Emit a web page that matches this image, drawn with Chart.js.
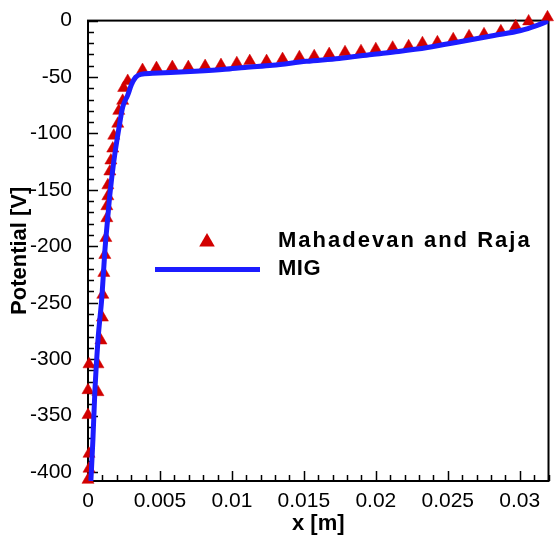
<!DOCTYPE html>
<html>
<head>
<meta charset="utf-8">
<title>Potential along x</title>
<script src="https://cdn.jsdelivr.net/npm/chart.js@4.4.1/dist/chart.umd.min.js"></script>
<style>
    html, body { margin: 0; padding: 0; background: #fff; }
    #wrap { width: 556px; height: 539px; }
</style>
</head>
<body>
<div id="wrap"><canvas id="potentialChart" width="556" height="539"></canvas></div>
<script>
// MIG solution (solid blue line)
const migX = [0.0002, 0.00034, 0.00048, 0.00069, 0.00097, 0.00117, 0.00138, 0.00152, 0.00179, 0.00214,
              0.00241, 0.00276, 0.00303, 0.00331, 0.00366, 0.00448, 0.00745, 0.00952, 0.0109, 0.01283,
              0.01517, 0.01745, 0.01972, 0.02159, 0.02359, 0.02593, 0.02821, 0.03007, 0.03117, 0.03186, 0.032];
const migV = [-408, -371.8, -327.8, -283.7, -244.1, -204.4, -173.6, -154.2, -125.1, -96.0,
              -76.7, -66.1, -56.4, -50.2, -47.6, -46.7, -44.9, -43.2, -41.5, -39.6,
              -36.1, -33.5, -30.0, -27.3, -23.8, -18.5, -13.2, -8.8, -4.4, -0.9, 0];

// Mahadevan and Raja (red triangles)
const mrX = [0.0, 0.00007, 0.00007, 0.0, 0.0, 0.00069, 0.00007, 0.00069, 0.0009, 0.001,
             0.00103, 0.0011, 0.00117, 0.00124, 0.00131, 0.00131, 0.00138, 0.00138, 0.00152, 0.00159,
             0.00172, 0.00179, 0.00207, 0.00214, 0.00241, 0.00248, 0.00276, 0.00379, 0.00476, 0.00586,
             0.00697, 0.00814, 0.00924, 0.01034, 0.01124, 0.01241, 0.01352, 0.01469, 0.01572, 0.01676,
             0.01786, 0.01897, 0.02, 0.02117, 0.02228, 0.02324, 0.02428, 0.02538, 0.02648, 0.02752,
             0.02869, 0.02972, 0.03062, 0.03193];
const mrV = [-407, -397.1, -383.9, -349.6, -327.5, -329.3, -304.6, -304.6, -283.5, -263.2,
             -243.0, -223.6, -207.7, -192.7, -175.1, -164.5, -155.7, -146.0, -133.7, -124.0,
             -113.4, -102.0, -91.4, -80.0, -71.1, -59.7, -53.5, -43.8, -42.1, -41.2,
             -41.2, -40.3, -39.4, -37.7, -35.9, -35.9, -34.1, -32.4, -31.5, -29.7,
             -28.0, -27.1, -25.3, -24.0, -22.7, -20.0, -19.2, -16.5, -13.9, -12.1,
             -9.5, -5.1, -0.7, 2.9];

const xTicks = [0, 0.005, 0.01, 0.015, 0.02, 0.025, 0.03];
const xTickLabels = ['0', '0.005', '0.01', '0.015', '0.02', '0.025', '0.03'];
const yTicks = [0, -50, -100, -150, -200, -250, -300, -350, -400];
const yTickLabels = ['0', '-50', '-100', '-150', '-200', '-250', '-300', '-350', '-400'];

const BLUE = '#1c1cff';
const RED = '#d20000';
const FONT = "'Liberation Sans', Arial, sans-serif";

// frame around the plot + inward major/minor ticks on bottom and left
const frameTicks = {
    id: 'frameTicks',
    beforeDatasetsDraw(chart) {
        const { ctx, chartArea: a, scales: { x, y } } = chart;
        ctx.save();
        ctx.strokeStyle = '#000';
        ctx.lineWidth = 2;
        ctx.strokeRect(a.left, a.top, a.right - a.left, a.bottom - a.top);
        ctx.lineWidth = 1.5;
        ctx.beginPath();
        for (let i = 0; i * 0.001 <= x.max + 1e-9; i++) {
            const px = Math.round(x.getPixelForValue(i * 0.001)) + 0.5;
            const len = i % 5 === 0 ? 10 : 6;
            ctx.moveTo(px, a.bottom);
            ctx.lineTo(px, a.bottom - len);
        }
        for (let i = 0; i * 10 <= 400; i++) {
            const py = Math.round(y.getPixelForValue(-i * 10)) + 0.5;
            const len = i % 5 === 0 ? 10 : 6;
            ctx.moveTo(a.left, py);
            ctx.lineTo(a.left + len, py);
        }
        ctx.stroke();
        ctx.restore();
    }
};

// legend inside the plot area
const insideLegend = {
    id: 'insideLegend',
    afterDatasetsDraw(chart) {
        const { ctx } = chart;
        ctx.save();
        // triangle marker
        const cx = 207, cy = 242, r = 9;
        ctx.fillStyle = RED;
        ctx.beginPath();
        ctx.moveTo(cx, cy - r);
        ctx.lineTo(cx + r * 0.866, cy + r / 2);
        ctx.lineTo(cx - r * 0.866, cy + r / 2);
        ctx.closePath();
        ctx.fill();
        // line sample
        ctx.strokeStyle = BLUE;
        ctx.lineWidth = 5;
        ctx.beginPath();
        ctx.moveTo(155, 269.5);
        ctx.lineTo(260, 269.5);
        ctx.stroke();
        ctx.fillStyle = '#000';
        ctx.font = 'bold 22px ' + FONT;
        ctx.textBaseline = 'middle';
        ctx.letterSpacing = '2px';
        ctx.fillText('Mahadevan and Raja', 278, 241);
        ctx.letterSpacing = '0.5px';
        ctx.fillText('MIG', 278, 269);
        ctx.restore();
    }
};

new Chart(document.getElementById('potentialChart').getContext('2d'), {
    type: 'scatter',
    data: {
        datasets: [
            {
                label: 'MIG',
                data: migX.map((v, i) => ({ x: v, y: migV[i] })),
                showLine: true,
                borderColor: BLUE,
                borderWidth: 5,
                pointRadius: 0,
                cubicInterpolationMode: 'monotone',
                fill: false
            },
            {
                label: 'Mahadevan and Raja',
                data: mrX.map((v, i) => ({ x: v, y: mrV[i] })),
                showLine: false,
                pointStyle: 'triangle',
                pointRadius: 7,
                pointBackgroundColor: RED,
                pointBorderColor: RED,
                pointBorderWidth: 0.5,
                clip: false
            }
        ]
    },
    options: {
        responsive: false,
        animation: false,
        layout: { padding: { top: 18, right: 6, left: 0, bottom: 0 } },
        plugins: { legend: { display: false }, tooltip: { enabled: false } },
        scales: {
            x: {
                type: 'linear',
                min: 0,
                max: 0.032,
                grid: { display: false },
                border: { display: false },
                afterBuildTicks: s => { s.ticks = xTicks.map(v => ({ value: v })); },
                afterFit: s => { s.height = 58; },
                ticks: {
                    autoSkip: false,
                    maxRotation: 0,
                    padding: 0,
                    color: '#000',
                    font: { family: FONT, size: 21 },
                    callback: (v, i) => xTickLabels[i]
                },
                title: {
                    display: true,
                    text: 'x [m]',
                    color: '#000',
                    font: { family: FONT, size: 22, weight: 'bold' },
                    padding: { top: 0, bottom: 2 }
                }
            },
            y: {
                type: 'linear',
                min: -408,
                max: 0,
                grid: { display: false },
                border: { display: false },
                afterBuildTicks: s => { s.ticks = yTicks.map(v => ({ value: v })); },
                afterFit: s => { s.width = 88; },
                ticks: {
                    autoSkip: false,
                    padding: 8,
                    color: '#000',
                    font: { family: FONT, size: 21 },
                    callback: (v, i) => yTickLabels[i]
                },
                title: {
                    display: true,
                    text: 'Potential [V]',
                    color: '#000',
                    font: { family: FONT, size: 22, weight: 'bold' },
                    padding: { top: 7, bottom: 0 }
                }
            }
        }
    },
    plugins: [frameTicks, insideLegend]
});
</script>
</body>
</html>
